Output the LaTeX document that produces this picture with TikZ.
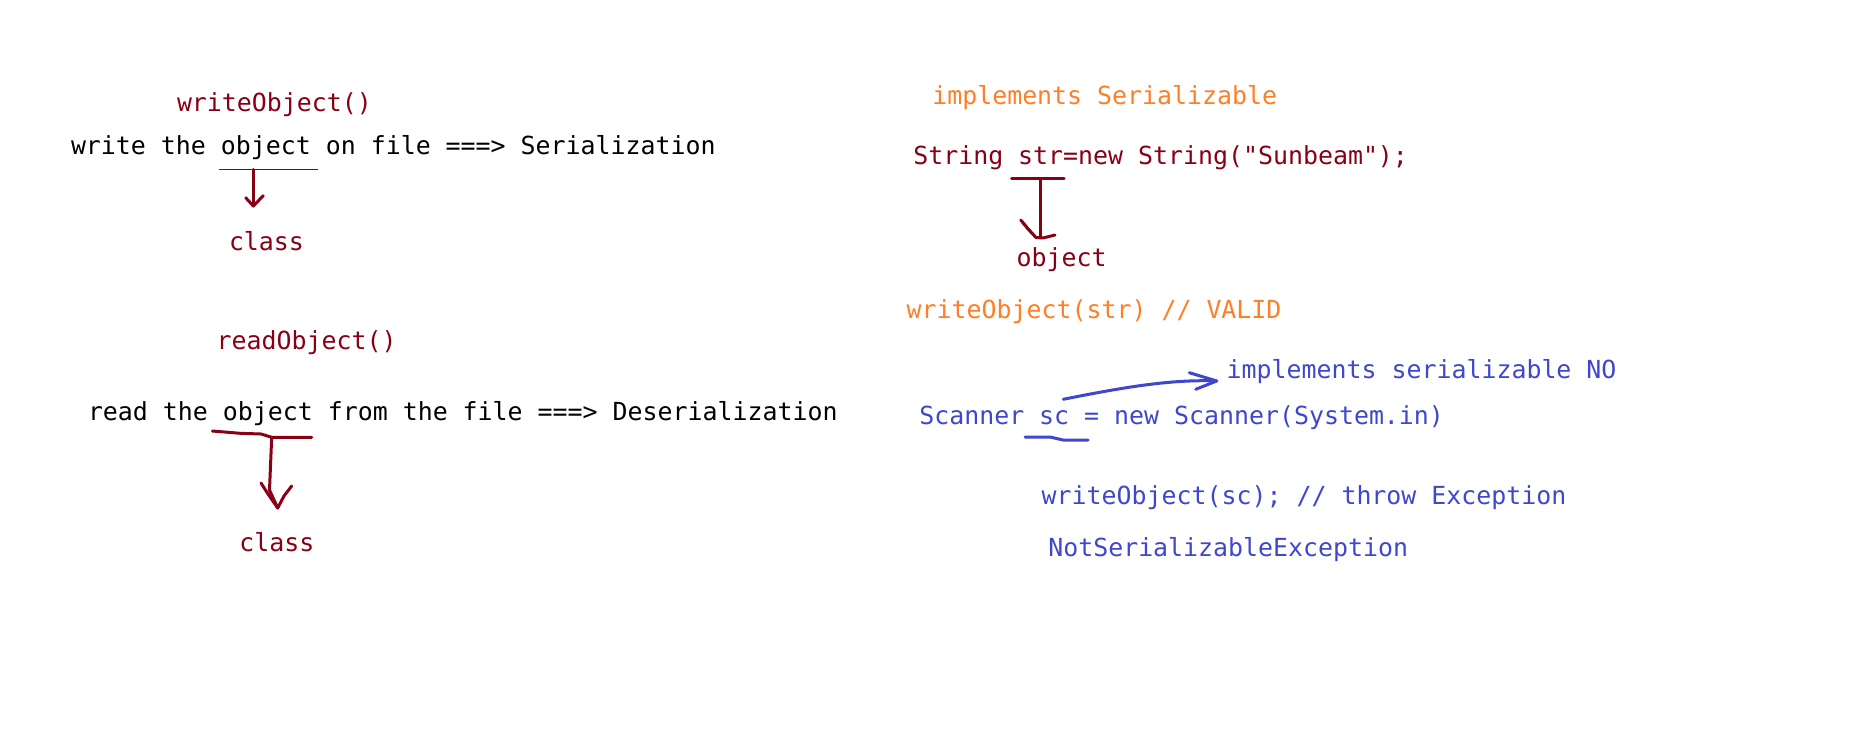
\documentclass[tikz,border=0pt]{standalone}
\usepackage{fontspec}
\newfontfamily\codefont{DejaVu Sans Mono}
\definecolor{pdred}{HTML}{880015}
\definecolor{porange}{HTML}{FF7F27}
\definecolor{pblue}{HTML}{3F48CC}
\begin{document}
\begin{tikzpicture}[x=0.5pt,y=-0.5pt,
  txt/.style={anchor=base west,inner sep=0pt,outer sep=0pt,
    font=\codefont\fontsize{12.45}{15}\selectfont},
  redtxt/.style={txt,text=pdred},
  orgtxt/.style={txt,text=porange},
  bluetxt/.style={txt,text=pblue},
  pen/.style={line width=1.5pt,line cap=round,line join=round},
  thinpen/.style={line width=0.6pt}]
\useasboundingbox[fill=white] (0,0) rectangle (1852,743);

% ---------- left: serialization ----------
\node[redtxt] (wo) at (177,111.7) {writeObject()};
\node[txt] (wline) at (71,154.5) {write the object on file ===> Serialization};
\node[redtxt] (cls1) at (229,250) {class};
\coordinate (u1a) at (219,169.5);
\coordinate (u1b) at (318,169.5);
\coordinate (u1) at (253.3,169.5);
\coordinate (t1) at (253.3,206);
\draw[thinpen,pdred] (u1a) -- (u1b);
\draw[pen,pdred] (u1) -- (t1);
\draw[pen,pdred] (245.7,197.7) -- (t1) -- (263.3,195.7);

% ---------- left: deserialization ----------
\node[redtxt] (ro) at (216.7,349.3) {readObject()};
\node[txt] (rline) at (88,420) {read the object from the file ===> Deserialization};
\node[redtxt] (cls2) at (239.3,551.7) {class};
\coordinate (u2) at (271.7,437.3);
\coordinate (t2) at (277.7,508);
\draw[pen,pdred] (212.3,431) -- (240,433.3) -- (261,434) -- (u2) -- (311.7,437.3);
\draw[pen,pdred] (u2) -- (269.5,490) -- (t2);
\draw[pen,pdred] (261,483) -- (268,494) -- (t2) -- (284,496) -- (291.7,486);

% ---------- right: String ----------
\node[orgtxt] (implS) at (932.3,105) {implements Serializable};
\node[redtxt] (strline) at (913.3,165) {String str=new String("Sunbeam");};
\node[redtxt] (obj) at (1016.7,266.5) {object};
\coordinate (u3) at (1040.7,178.3);
\coordinate (t3) at (1040.7,237);
\draw[pen,pdred] (1011.7,178.3) -- (1064,178.3);
\draw[pen,pdred] (u3) -- (t3);
\draw[pen,pdred] (1020.7,220) -- (1028,229) -- (1036,237.5) -- (1043,238) -- (1055,235);
\draw[line width=1pt,pdred] (1022,221) -- (1033,234);
\node[orgtxt] (wostr) at (906.7,318.3) {writeObject(str) // VALID};

% ---------- right: Scanner ----------
\node[bluetxt] (implNO) at (1226.7,378.3) {implements serializable NO};
\node[bluetxt] (scline) at (919.3,424) {Scanner sc = new Scanner(System.in)};
\coordinate (u4) at (1063.3,399.3);
\coordinate (t4) at (1216.7,381);
\draw[pen,pblue] (u4) .. controls (1120,388) and (1170,379) .. (t4);
\draw[pen,pblue] (1189.3,372.7) -- (t4) -- (1195.7,389.3);
\draw[pen,pblue] (1025,437) -- (1050,437) -- (1063,440) -- (1088,440);
\node[bluetxt] (wosc) at (1041.7,504.3) {writeObject(sc); // throw Exception};
\node[bluetxt] (nse) at (1048.3,556) {NotSerializableException};
\end{tikzpicture}
\end{document}
